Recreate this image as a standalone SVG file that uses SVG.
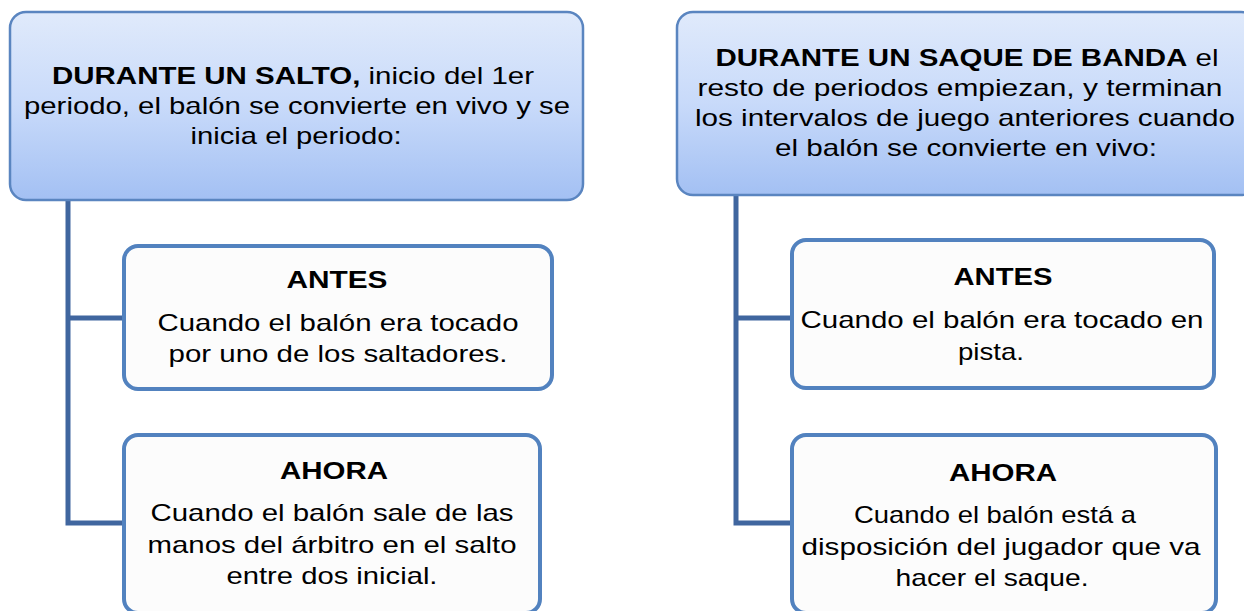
<svg xmlns="http://www.w3.org/2000/svg" width="1244" height="611" viewBox="0 0 1244 611">
<defs>
<linearGradient id="hg" x1="0" y1="0" x2="0" y2="1">
<stop offset="0" stop-color="#e0eafb"/>
<stop offset="0.5" stop-color="#c8dafa"/>
<stop offset="1" stop-color="#a3c0f3"/>
</linearGradient>
<style>
.head{fill:url(#hg);stroke:#5a85c0;stroke-width:2.5}
.child{fill:#fcfcfc;stroke:#5282bf;stroke-width:4}
.conn{fill:none;stroke:#40669f;stroke-width:5}
text{font-family:"Liberation Sans",Arial,sans-serif;font-size:24px;fill:#000;text-anchor:middle}
.b{font-weight:bold}
</style>
</defs>
<g id="connectors">
<path class="conn" d="M68 200 V523 H124 M68 318 H124"/>
<path class="conn" d="M736 195 V523 H792 M736 318 H792"/>
</g>
<g id="head-left">
<rect class="head" x="10" y="12" width="573" height="188" rx="16"/>
<text x="293" y="84" textLength="482" lengthAdjust="spacingAndGlyphs"><tspan class="b">DURANTE UN SALTO,</tspan> inicio del 1er</text>
<text x="297" y="114" textLength="546" lengthAdjust="spacingAndGlyphs">periodo, el balón se convierte en vivo y se</text>
<text x="296" y="144" textLength="211" lengthAdjust="spacingAndGlyphs">inicia el periodo:</text>
</g>
<g id="antes-left">
<rect class="child" x="124" y="246" width="428" height="143" rx="14"/>
<text class="b" x="337" y="288" textLength="101" lengthAdjust="spacingAndGlyphs">ANTES</text>
<text x="338" y="331" textLength="361" lengthAdjust="spacingAndGlyphs">Cuando el balón era tocado</text>
<text x="338" y="362" textLength="339" lengthAdjust="spacingAndGlyphs">por uno de los saltadores.</text>
</g>
<g id="ahora-left">
<rect class="child" x="124" y="435" width="416" height="178" rx="14"/>
<text class="b" x="334" y="479" textLength="108" lengthAdjust="spacingAndGlyphs">AHORA</text>
<text x="332" y="521" textLength="363" lengthAdjust="spacingAndGlyphs">Cuando el balón sale de las</text>
<text x="332" y="553" textLength="369" lengthAdjust="spacingAndGlyphs">manos del árbitro en el salto</text>
<text x="332" y="584" textLength="211" lengthAdjust="spacingAndGlyphs">entre dos inicial.</text>
</g>
<g id="head-right">
<rect class="head" x="677" y="12" width="580" height="183" rx="16"/>
<text x="967" y="66" textLength="503" lengthAdjust="spacingAndGlyphs"><tspan class="b">DURANTE UN SAQUE DE BANDA</tspan> el</text>
<text x="960" y="96" textLength="525" lengthAdjust="spacingAndGlyphs">resto de periodos empiezan, y terminan</text>
<text x="965" y="126" textLength="540" lengthAdjust="spacingAndGlyphs">los intervalos de juego anteriores cuando</text>
<text x="966" y="156" textLength="382" lengthAdjust="spacingAndGlyphs">el balón se convierte en vivo:</text>
</g>
<g id="antes-right">
<rect class="child" x="792" y="240" width="422" height="148" rx="14"/>
<text class="b" x="1003" y="285" textLength="99" lengthAdjust="spacingAndGlyphs">ANTES</text>
<text x="1002" y="328" textLength="403" lengthAdjust="spacingAndGlyphs">Cuando el balón era tocado en</text>
<text x="991" y="360" textLength="66" lengthAdjust="spacingAndGlyphs">pista.</text>
</g>
<g id="ahora-right">
<rect class="child" x="792" y="435" width="424" height="178" rx="14"/>
<text class="b" x="1003" y="481" textLength="108" lengthAdjust="spacingAndGlyphs">AHORA</text>
<text x="995" y="523" textLength="282" lengthAdjust="spacingAndGlyphs">Cuando el balón está a</text>
<text x="1001" y="555" textLength="399" lengthAdjust="spacingAndGlyphs">disposición del jugador que va</text>
<text x="992" y="586" textLength="193" lengthAdjust="spacingAndGlyphs">hacer el saque.</text>
</g>
</svg>
